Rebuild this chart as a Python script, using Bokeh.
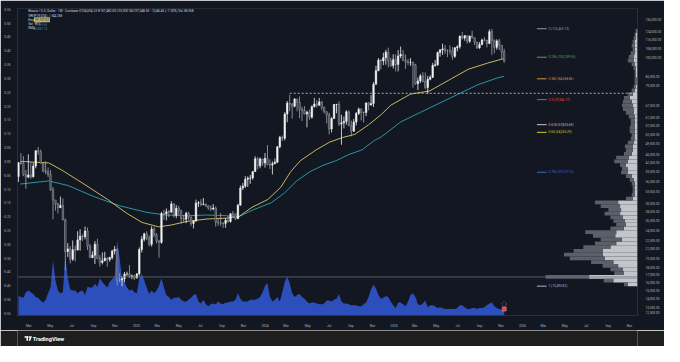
import numpy as np
import pandas as pd
from bokeh.plotting import figure
from bokeh.models import (Range1d, LinearAxis, FixedTicker, NumeralTickFormatter,
                          LinearScale, Label, Span, ColumnDataSource, BoxAnnotation)
from bokeh.layouts import column
from bokeh.embed import file_html
from bokeh.resources import INLINE

# ------------------------------------------------------------------ data
first_week = "2022-01-31"          # weekly candles, Coinbase BTC/USD
first_open = 37900

closes = [
    42400, 42200, 38400, 37700, 38400, 37800, 41300, 46800, 46400, 42200, 39700, 39400,
    38500, 34000, 31300, 30300, 29400, 29900, 26600, 20550, 21000, 19300, 20850, 20800,
    22600, 23300, 23200, 24300, 21500, 19550, 19950, 21800, 19400, 18800, 19050, 19450,
    19250, 19570, 20630, 20900, 16300, 16280, 16450, 17100, 17100, 16750, 16840, 16550,
    17130, 20880, 22700, 23750, 22950, 21800, 24650, 23550, 22400, 22150, 28000, 27950,
    28450, 28330, 30300, 27600, 29250, 28700, 26900, 26750, 28070, 27220, 25850, 26340,
    30500, 30600, 30170, 30250, 29800, 29280, 29050, 29300, 26100, 26000, 25870, 25850,
    26530, 26250, 27970, 27930, 26850, 29990, 34500, 35000, 37050, 37350, 37450, 39450,
    43800, 41400, 43700, 42270,
    43950, 41750, 41600, 42050, 42600, 48300, 52150, 51750, 63100, 68950, 68400, 67200,
    71300, 69350, 65700, 64950, 63100, 64000, 61500, 66950, 68500, 67750, 69650, 66650,
    64250, 62700, 55850, 60800, 68150, 68250, 58100, 58700, 59450, 64200, 57300, 54850,
    59150, 63350, 65600, 63900, 63850, 69050, 67950, 68750, 80400, 89850, 97900, 97250,
    99850, 104450, 97350, 93700, 98300,
    94500, 101300, 102600, 97700, 96500, 96150, 96300, 94250, 80700, 82600, 86100, 82350,
    78350, 83750, 85100, 93750, 94300, 104150, 106500, 107300, 105700, 105600, 105500, 100950,
    108350, 109200, 119100, 117250, 119450, 114200, 119300, 117450, 113500, 108250, 111150, 115350,
    115250, 112150, 123500, 115100, 108650, 114500, 110550, 104694.23, 97048.50,
]
highs = [
    42650, 45850, 44750, 40000, 45400, 42600, 42400, 46900, 48200, 47200, 42400, 42900,
    40800, 40000, 34800, 31300, 30600, 32200, 31700, 26900, 22000, 21500, 22500, 21600,
    24250, 24650, 23650, 25200, 25000, 21850, 20600, 22400, 22800, 19950, 20400, 20500,
    19650, 19700, 20850, 21500, 21050, 17200, 16800, 17400, 17450, 18400, 17050, 16950,
    17200, 21250, 23300, 23950, 24250, 23450, 25250, 25100, 23900, 22600, 28400, 28900,
    29200, 28800, 31000, 30500, 30000, 29850, 28900, 27650, 28450, 28450, 27350, 26450,
    31400, 31000, 31500, 31800, 30400, 29990, 30000, 30250, 29700, 26800, 28150, 26100,
    27000, 27450, 28100, 28600, 28000, 30350, 35200, 35950, 38000, 37950, 38400, 39600,
    44700, 44400, 44300, 43800,
    45900, 49000, 43550, 42850, 43850, 48600, 52800, 52950, 64000, 70150, 73800, 68900,
    71800, 71350, 72800, 66900, 67250, 64750, 65500, 67700, 71950, 70600, 71950, 70200,
    66950, 64500, 63800, 61450, 68350, 68500, 70000, 62700, 61800, 65050, 64950, 59800,
    60650, 64100, 66500, 66050, 64450, 69400, 69500, 73600, 81850, 93450, 99600, 98900,
    104000, 106500, 108350, 99900, 102700,
    102500, 106300, 109350, 106400, 102500, 98900, 99500, 96500, 95000, 84900, 87450, 88800,
    88500, 86100, 86500, 95750, 97900, 104900, 106650, 111950, 110700, 106800, 110500, 108950,
    108550, 110550, 119500, 123200, 120250, 119800, 119350, 124450, 117650, 113650, 113400, 116700,
    117900, 115400, 125700, 126300, 115950, 116000, 116400, 110700, 107482.00,
]
lows = [
    36250, 41750, 38000, 34300, 37450, 37200, 37600, 40500, 45200, 42100, 39200, 38600,
    37700, 33700, 26700, 28700, 28000, 29300, 26550, 17600, 19650, 18650, 19050, 18950,
    20750, 20700, 22400, 22700, 20800, 19550, 19550, 18550, 19350, 18150, 18500, 19000,
    18150, 18900, 19250, 20050, 15600, 16000, 15480, 16000, 16850, 16550, 16400, 16300,
    16500, 16900, 20400, 22300, 22550, 21450, 21400, 23100, 21950, 19550, 21900, 26600,
    26500, 27200, 28200, 27150, 26950, 27700, 25800, 26100, 25900, 26600, 25350, 24800,
    26250, 29550, 29750, 29950, 29550, 28900, 28600, 28800, 25200, 25350, 25350, 24900,
    24950, 26000, 26000, 27250, 26550, 26800, 29900, 33900, 34550, 34800, 35700, 36900,
    39400, 40200, 40550, 41300,
    40750, 41500, 40300, 38550, 41900, 42250, 47700, 50600, 50900, 59000, 64500, 60800,
    66600, 64500, 61000, 59650, 62800, 56550, 60200, 60750, 66550, 66600, 67650, 65100,
    63400, 58400, 53500, 54300, 60650, 63500, 57200, 49100, 56100, 57850, 57200, 52550,
    54600, 57500, 62600, 59850, 58900, 62050, 65050, 67450, 66800, 80200, 89400, 90800,
    94000, 94300, 92200, 92600, 91400,
    89250, 89300, 99500, 97600, 91200, 94100, 93400, 78200, 80000, 76600, 81150, 81650,
    77150, 74400, 83000, 84600, 92800, 93400, 100700, 102100, 103050, 100350, 102650, 98200,
    99600, 105100, 107450, 115800, 114700, 112000, 112650, 116850, 110700, 107300, 107300, 110650,
    114400, 108650, 111600, 102000, 103500, 106650, 106300, 98900, 95900.94,
]
volume_k = [   # weekly volume, thousand BTC
    105, 100, 95, 125, 135, 125, 115, 100, 95, 80, 70, 85, 120,
    150, 295, 190, 135, 120, 125, 320, 200, 140, 135, 135, 120, 130, 135, 110, 155, 150,
    150, 170, 155, 200, 180, 165, 150, 180, 195, 210, 405, 310, 200, 180, 150, 135, 140, 125,
    120, 200, 225, 190, 150, 115, 135, 120, 135, 160, 200, 150, 110, 100, 85, 95, 95, 100,
    85, 75, 75, 85, 95, 110, 115,
    75, 65, 85, 60, 50, 60, 65, 60, 75, 65, 60, 70, 70, 75, 75, 85, 120, 90, 75, 75, 75,
    85, 85, 85, 90, 100, 125, 160,
    175, 100, 75, 85, 100, 75, 125, 180, 210, 175, 120, 100, 110, 115, 100, 90, 75, 65, 70,
    70, 65, 60, 60, 65, 80, 80, 75, 85, 90, 115, 75, 65, 65, 60, 55, 55, 55, 50, 50, 60, 70,
    100, 140, 165, 145, 110, 90, 95, 105, 100, 75, 55, 40,
    70, 70, 60, 50, 75, 110, 120, 100, 60, 55, 65, 80, 45, 55, 55, 50, 40, 45, 40, 35, 35,
    35, 35, 35, 40, 55, 55, 45, 35, 35, 40, 40, 35, 40, 40, 45, 55, 65, 70, 50, 40, 35, 30, 38.358,
]

ema_fast_dates = ["2022-02-05", "2022-04-27", "2022-06-03", "2022-08-05", "2022-10-10", "2022-12-04",
                  "2023-01-17", "2023-03-05", "2023-04-10", "2023-05-27", "2023-07-20", "2023-09-13",
                  "2023-10-19", "2023-11-25", "2024-01-09", "2024-02-15", "2024-03-14", "2024-04-10",
                  "2024-05-25", "2024-07-02", "2024-08-08", "2024-09-12", "2024-10-21", "2024-11-26",
                  "2024-12-23", "2025-02-17", "2025-04-12", "2025-06-06", "2025-07-31", "2025-09-24",
                  "2025-11-10"]
ema_fast = [42880, 42330, 39930, 35630, 31490, 28100, 26050, 25130, 25520, 26310, 26790, 26990,
            27320, 29480, 31420, 34750, 39450, 43080, 47080, 50140, 52070, 53440, 57780, 62810,
            67760, 74220, 76100, 83160, 90880, 95550, 99197.02]
ema_slow_dates = ["2022-02-05", "2022-04-27", "2022-06-21", "2022-09-01", "2022-11-14", "2023-01-28",
                  "2023-03-25", "2023-05-27", "2023-07-20", "2023-09-13", "2023-10-19", "2023-11-25",
                  "2024-01-19", "2024-02-24", "2024-03-31", "2024-05-08", "2024-06-13", "2024-07-20",
                  "2024-08-26", "2024-10-02", "2024-11-06", "2024-11-26", "2025-01-20", "2025-03-15",
                  "2025-05-09", "2025-07-03", "2025-08-27", "2025-10-21", "2025-11-10"]
ema_slow = [35630, 36560, 35200, 32210, 29860, 28320, 27680, 27530, 27680, 27530, 27320, 28750,
            30620, 33030, 36560, 39450, 41470, 43080, 45320, 47080, 50790, 52350, 59110, 63770,
            68800, 74220, 80070, 84630, 85857.22]

fib_levels = ["0", "0.236", "0.382", "0.5", "0.618", "0.65", "0.786", "1"]
fib_prices = [126465.73, 100239.95, 84068.86, 70946.77, 57825.69, 54326.29, 39237.15, 15493.82]

# visible-range volume profile rows, from the top price row to the bottom one
vp_up = [10, 20, 20, 30, 30, 30, 30, 40, 40, 30, 20, 20, 20, 10, 10, 20, 30, 50, 80, 60, 50, 40, 40,
         30, 30, 30, 30, 30, 30, 30, 40, 50, 50, 60, 90, 100, 120, 100, 100, 60, 40, 30, 30, 30, 30,
         50, 200, 180, 170, 180, 150, 130, 120, 140, 220, 230, 160, 220, 280, 360, 360, 340, 250, 200,
         150, 140, 500, 250, 100]
vp_down = [10, 10, 20, 20, 30, 20, 40, 50, 60, 30, 20, 10, 10, 20, 20, 20, 30, 50, 60, 90, 110, 110, 80,
           60, 40, 40, 50, 50, 30, 40, 60, 80, 70, 80, 130, 140, 60, 60, 70, 60, 40, 30, 20, 20, 30,
           70, 240, 200, 130, 160, 130, 120, 100, 140, 320, 230, 220, 220, 280, 300, 400, 360, 230, 160,
           130, 100, 450, 100, 40]

price_ticks = [136000, 124000, 116000, 108000, 100000, 85500, 79500, 67500, 61500, 57500, 53500,
               49500, 45500, 42500, 39500, 36500, 33500, 30500, 28500, 26500, 24500, 22500, 21000,
               19500, 18000, 17000, 16000, 15000, 14000, 13000, 12500]
pct_ticks = [0.55, 0.50, 0.45, 0.40, 0.35, 0.30, 0.25, 0.20, 0.15, 0.10, 0.05, 0.0,
             -0.05, -0.10, -0.15, -0.20, -0.25, -0.30, -0.35, -0.40, -0.45, -0.50, -0.55]
x_tick_dates = ["2022-03-01", "2022-05-01", "2022-07-01", "2022-09-01", "2022-11-01",
                "2023-01-01", "2023-03-01", "2023-05-01", "2023-07-01", "2023-09-01", "2023-11-01",
                "2024-01-01", "2024-03-01", "2024-05-01", "2024-07-01", "2024-09-01", "2024-11-01",
                "2025-01-01", "2025-03-01", "2025-05-01", "2025-07-01", "2025-09-01", "2025-11-01",
                "2026-01-01", "2026-03-01", "2026-05-01", "2026-07-01", "2026-09-01", "2026-11-01"]
x_tick_labels = ["Mar", "May", "Jul", "Sep", "Nov",
                 "2023", "Mar", "May", "Jul", "Sep", "Nov",
                 "2024", "Mar", "May", "Jul", "Sep", "Nov",
                 "2025", "Mar", "May", "Jul", "Sep", "Nov",
                 "2026", "Mar", "May", "Jul", "Sep", "Nov"]

last_price = 97048.50
hline_price = 74700.00
hline_start = "2024-03-11"
event_flag_k = [62, 35]     # event badge on the volume pane (ring, flag), thousand-BTC scale

# ------------------------------------------------------------------ styles
FONT = "Roboto"
BG = "#131722"
BAR = "#1e1e1e"
AXT = "#b2b5be"
UP_C = "#f2f2f2"
DN_FILL = "#3b3f4a"
DN_LINE = "#a3a6af"
VOL_C = "#2c4fbb"
YEL = "#c9b75e"
TEAL = "#2a94a6"
VP_LIGHT = "#c3c5cb"
VP_DARK = "#5b5f69"
FIB_COLORS = ["#9598a1", "#4caf50", "#d98c3c", "#e0483c", "#c3c5cb", "#d4d02a", "#3f63c9", "#b2b5be"]
FS = "3.2px"

W, H_MAIN, H_FOOT = 664, 330, 16

def ms(t):
    return pd.Timestamp(t).value / 1e6

# layout helpers: reference pixel grid -> data coordinates
REF0 = pd.Timestamp("2023-01-01")
def rx(x):
    return ms(REF0 + pd.Timedelta(days=(x - 137) / 133 * 365.25))
def ry(y):
    return 1e5 * np.exp((60.7 - y) / 131.8)
def rp(y):
    return (172.3 - y) / 297.2

# ------------------------------------------------------------------ main chart
p = figure(width=W, height=H_MAIN, x_axis_type="datetime", y_axis_type="log",
           y_axis_location="right",
           x_range=Range1d(rx(14), rx(655)), y_range=Range1d(ry(338), ry(8)),
           output_backend="svg", toolbar_location=None,
           background_fill_color=BG, border_fill_color=BG, outline_line_color="#2a2e39",
           min_border_left=14, min_border_right=24, min_border_top=8, min_border_bottom=7)
p.grid.visible = False
p.extra_y_ranges = {"pct": Range1d(rp(338), rp(8)), "vol": Range1d(0, 1650)}
p.extra_y_scales = {"pct": LinearScale(), "vol": LinearScale()}
p.extra_x_ranges = {"vp": Range1d(6410, 0)}
p.extra_x_scales = {"vp": LinearScale()}

# header strip
p.add_layout(BoxAnnotation(left=0, right=W, top=0, bottom=8, left_units="canvas",
                           right_units="canvas", top_units="canvas", bottom_units="canvas",
                           fill_color=BAR, fill_alpha=1, line_color=None))

# volume area
dates = pd.date_range(first_week, periods=len(closes), freq="7D")
p.varea(x=dates, y1=0, y2=volume_k, y_range_name="vol", fill_color=VOL_C)

# volume profile
n = len(vp_up)
edges = np.geomspace(max(highs), min(lows), n + 1)
tot = [u + d for u, d in zip(vp_up, vp_down)]
vps = ColumnDataSource(dict(top=edges[:-1], bottom=edges[1:], up=vp_up, tot=tot))
p.quad(left=0, right="up", top="top", bottom="bottom", source=vps, x_range_name="vp",
       fill_color=VP_LIGHT, line_color=None)
p.quad(left="up", right="tot", top="top", bottom="bottom", source=vps, x_range_name="vp",
       fill_color=VP_DARK, line_color=None)
k_poc = int(np.argmax(tot))
poc_price = float(np.sqrt(edges[k_poc] * edges[k_poc + 1]))
p.add_layout(Span(location=poc_price, dimension="width", line_color="#6a6d78", line_width=0.8))

# moving averages
p.line(pd.to_datetime(ema_slow_dates), ema_slow, line_color=TEAL, line_width=1)
p.line(pd.to_datetime(ema_fast_dates), ema_fast, line_color=YEL, line_width=1)

# candles
opens = [first_open] + closes[:-1]
upc = [c >= o for o, c in zip(opens, closes)]
cs = ColumnDataSource(dict(
    x=dates, h=highs, l=lows,
    top=[max(o, c) for o, c in zip(opens, closes)],
    bot=[min(o, c) for o, c in zip(opens, closes)],
    fill=[UP_C if u else DN_FILL for u in upc],
    line=[UP_C if u else DN_LINE for u in upc]))
p.segment(x0="x", y0="h", x1="x", y1="l", source=cs, line_color="line", line_width=0.8)
p.vbar(x="x", width=4.4 * 86400000, top="top", bottom="bot", source=cs,
       fill_color="fill", line_color="line", line_width=0.5)

# event badge on the last week
p.scatter(x=[dates[-1]], y=[event_flag_k[0]], y_range_name="vol", marker="circle", size=4.5,
          fill_color=None, line_color="#e0506a", line_width=0.8, line_dash="1 1")
p.scatter(x=[dates[-1]], y=[event_flag_k[1]], y_range_name="vol", marker="square", size=4,
          fill_color="#e53950", line_color="#f7a1ad", line_width=0.5)

# horizontal dashed level
p.segment(x0=[pd.Timestamp(hline_start)], y0=[hline_price], x1=[rx(655)], y1=[hline_price],
          line_color="#d1d4dc", line_width=0.8, line_dash="2 2")

# fib levels
p.segment(x0=[rx(551)] * len(fib_prices), y0=fib_prices, x1=[rx(561)] * len(fib_prices),
          y1=fib_prices, line_color=FIB_COLORS, line_width=1)

def txt(x, y, s, color=AXT, size=FS, bg=None, style="normal", pad=0):
    p.add_layout(Label(x=x, y=y, text=s, text_color=color, text_font_size=size,
                       text_font=FONT, text_baseline="middle", text_align="left",
                       text_font_style=style, background_fill_color=bg, padding=pad))

for lvl, pr, col in zip(fib_levels, fib_prices, FIB_COLORS):
    txt(rx(563), pr, f"{lvl} ({pr:,.2f})", color=col)

# header line
txt(rx(3), ry(4.2), "Saint_Pump created with TradingView.com, Nov 14, 2025 13:31 UTC+4", color="#c8cad0")

# legend block
txt(rx(25), ry(11), "Bitcoin / U.S. Dollar · 1W · Coinbase   O104,694.23  H107,482.00  "
    "L95,900.94  C97,048.50  −7,646.45 (−7.30%)   Vol 38.358", color="#d1d4dc")
txt(rx(25), ry(15.4), "VRVP", color="#d1d4dc")
txt(rx(33.5), ry(15.4), "19.074", color="#d1d4dc")
txt(rx(41.5), ry(15.4), "35.184", color="#5d606b")
txt(rx(50), ry(15.4), "54.258", color="#d1d4dc")
txt(rx(25), ry(20.2), "Ema", color="#d1d4dc")
txt(rx(31), ry(20.2), "99,197.02", color="#131722", bg=YEL, pad=1)
txt(rx(25), ry(24.8), "Vol · BTC", color="#d1d4dc")
txt(rx(34.5), ry(24.8), "38.358", color="#3f63c9")
txt(rx(25), ry(29.3), "EMA", color="#d1d4dc")
txt(rx(30.5), ry(29.3), "85,857.22", color=TEAL)

# price-axis tags
txt(rx(657), ry(12.8), "USD", color="#d1d4dc", bg="#2a2e39", pad=1)
txt(rx(657), last_price, "97,048.50", color="#131722", bg="#e0e3eb", pad=1)
txt(rx(657), ry(68.6), "2d 12h", color="#131722", bg="#e0e3eb", pad=1)
txt(rx(657), hline_price, f"{hline_price:,.2f}", color="#131722", bg="#e0e3eb", pad=1)

# axes
ya = p.yaxis[0]
ya.ticker = FixedTicker(ticks=price_ticks)
ya.formatter = NumeralTickFormatter(format="0,0.00")
left = LinearAxis(y_range_name="pct", ticker=FixedTicker(ticks=pct_ticks),
                  formatter=NumeralTickFormatter(format="0.00"))
p.add_layout(left, "left")
xa = p.xaxis[0]
xt = [ms(d) for d in x_tick_dates]
xa.ticker = FixedTicker(ticks=xt)
xa.major_label_overrides = dict(zip(xt, x_tick_labels))
for ax in (ya, left, xa):
    ax.axis_line_color = None
    ax.major_tick_line_color = None
    ax.minor_tick_line_color = None
    ax.major_label_text_font_size = FS
    ax.major_label_text_font = FONT
    ax.major_label_text_color = AXT
    ax.major_label_standoff = 2
left.major_label_standoff = 1

# ------------------------------------------------------------------ footer strip
foot = figure(width=W, height=H_FOOT, x_range=Range1d(0, W), y_range=Range1d(0, H_FOOT),
              x_axis_location=None, y_axis_location=None, toolbar_location=None,
              output_backend="svg", min_border=0, background_fill_color=BAR,
              border_fill_color=BAR, outline_line_color=None)
foot.grid.visible = False
foot.quad(left=[7.6, 9.6], right=[11.4, 11.3], top=[10.2, 10.2], bottom=[8.7, 5.8],
          fill_color="white", line_color=None)
foot.scatter(x=[12.7], y=[9.4], size=1.8, marker="circle", fill_color="white", line_color=None)
foot.patch(x=[13.6, 15.4, 13.7, 11.9], y=[10.2, 10.2, 5.8, 5.8], fill_color="white", line_color=None)
foot.add_layout(Label(x=16.3, y=8, text="TradingView", text_font_size="5.6px", text_font=FONT,
                      text_font_style="bold", text_color="white", text_baseline="middle"))

layout = column(p, foot, spacing=0)
open("out.html", "w").write(file_html(layout, INLINE))
